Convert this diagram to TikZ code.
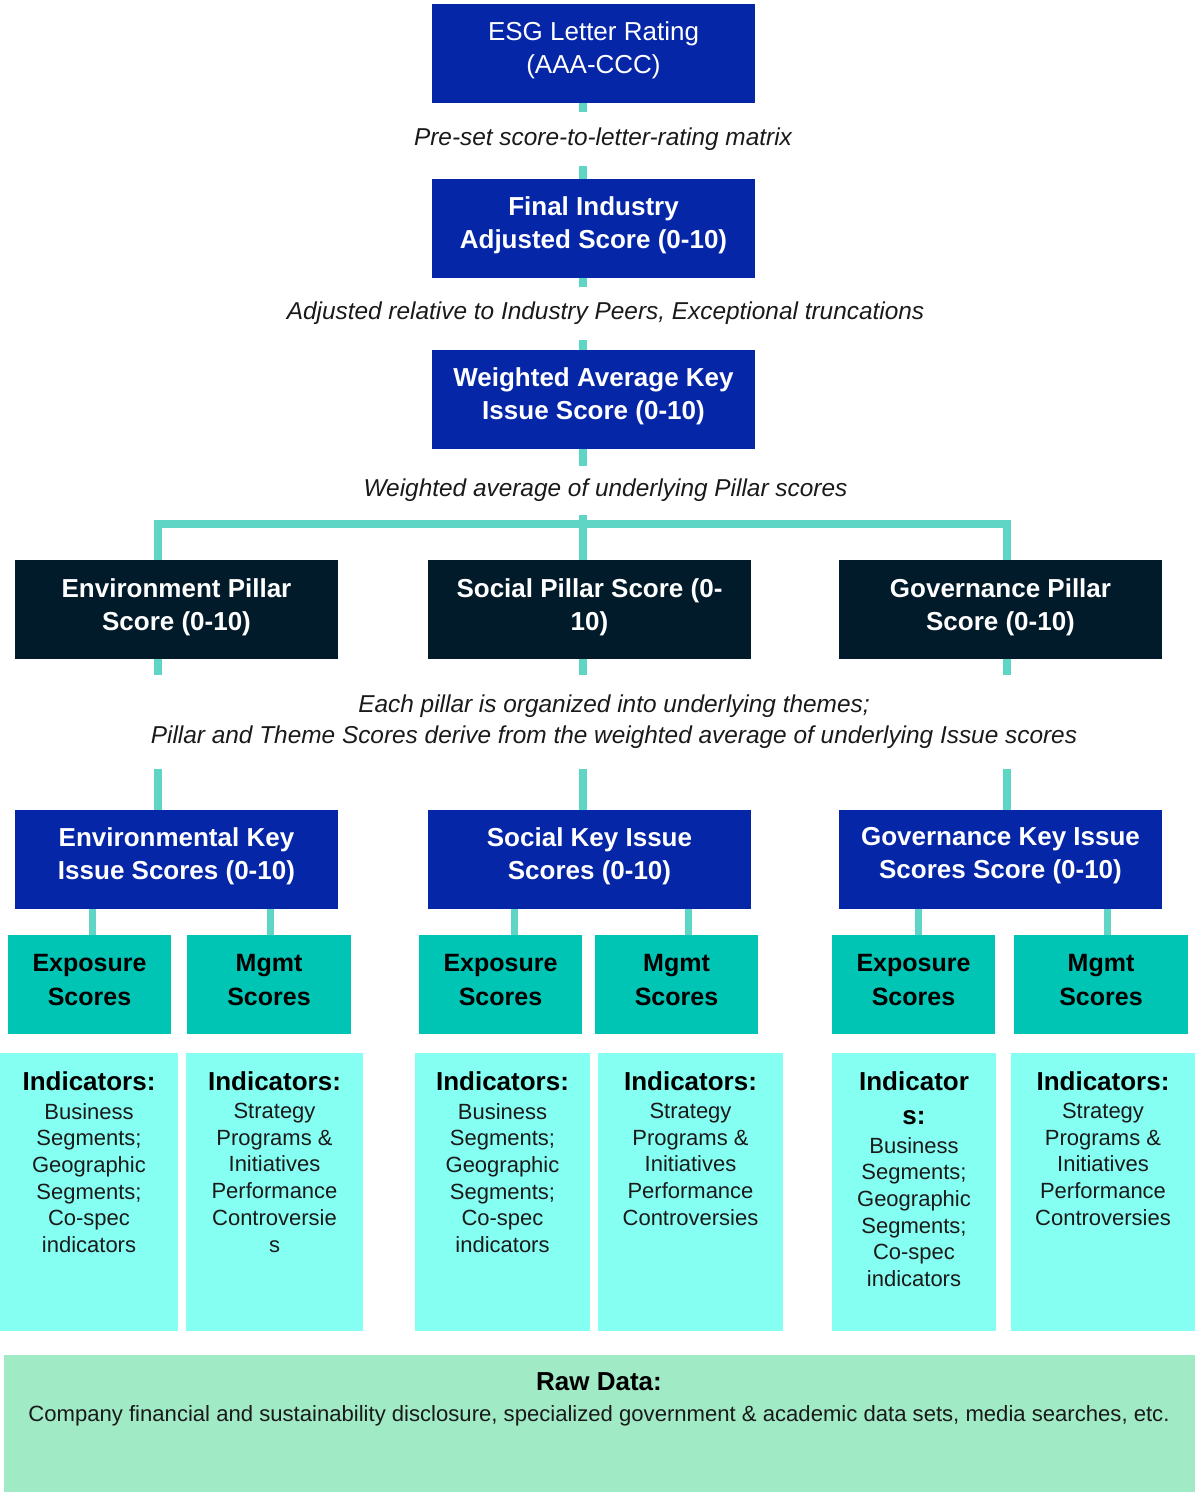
\documentclass[tikz,border=0pt]{standalone}
\usepackage{fontspec}
\setmainfont{Liberation Sans}
\definecolor{kblue}{HTML}{0626A8}
\definecolor{knavy}{HTML}{021B2B}
\definecolor{kteal}{HTML}{00C4B4}
\definecolor{kcyan}{HTML}{85FFF2}
\definecolor{kgreen}{HTML}{A0EAC6}
\definecolor{kline}{HTML}{5ED5C5}
\definecolor{ktext}{HTML}{1A1A1A}
\begin{document}
\begin{tikzpicture}[x=1pt,y=-1pt,
  box/.style={rectangle, draw=none, inner sep=0pt, minimum height=99pt},
  bluebox/.style={box, fill=kblue, minimum width=323pt},
  navybox/.style={box, fill=knavy, minimum width=323pt},
  tealbox/.style={box, fill=kteal},
  cyanbox/.style={box, fill=kcyan, minimum height=278pt},
  greenbox/.style={box, fill=kgreen, minimum height=137pt, minimum width=1191pt},
  conn/.style={draw=kline, line width=8pt},
  conns/.style={draw=kline, line width=7pt},
  wreg/.style={text=white, align=center, anchor=north, inner sep=0pt, font=\fontsize{26}{33}\selectfont},
  wbold/.style={text=white, align=center, anchor=north, inner sep=0pt, font=\fontsize{26}{33}\selectfont\bfseries},
  bbold/.style={text=black, align=center, anchor=north, inner sep=0pt, font=\fontsize{25}{34}\selectfont\bfseries},
  lbl/.style={fill=white, text=ktext, align=center, inner xsep=4pt, inner ysep=0pt, font=\fontsize{24.4}{31}\selectfont\itshape},
  indh/.style={text=black, align=center, anchor=north, inner sep=0pt, font=\fontsize{26}{34}\selectfont\bfseries},
  indb/.style={text=ktext, align=center, anchor=north, inner sep=0pt, font=\fontsize{22}{26.7}\selectfont},
]
\useasboundingbox (0,0) rectangle (1195,1492);

% ---- boxes ----
\node[bluebox] (esg) at (593.5,53.5) {};
\node[bluebox] (fin) at (593.5,228.5) {};
\node[bluebox] (wak) at (593.5,399.5) {};

\node[navybox] (envp) at (176.5,609.5) {};
\node[navybox] (socp) at (589.5,609.5) {};
\node[navybox] (govp) at (1000.5,609.5) {};

\node[bluebox] (envk) at (176.5,859.5) {};
\node[bluebox] (sock) at (589.5,859.5) {};
\node[bluebox] (govk) at (1000.5,859.5) {};

\node[tealbox, minimum width=163pt] (envx) at (89.5,984.5) {};
\node[tealbox, minimum width=164pt] (envm) at (269,984.5) {};
\node[tealbox, minimum width=163pt] (socx) at (500.5,984.5) {};
\node[tealbox, minimum width=163pt] (socm) at (676.5,984.5) {};
\node[tealbox, minimum width=163pt] (govx) at (913.5,984.5) {};
\node[tealbox, minimum width=174pt] (govm) at (1101,984.5) {};

\node[cyanbox, minimum width=178pt] (i1) at (89,1192) {};
\node[cyanbox, minimum width=177pt] (i2) at (274.5,1192) {};
\node[cyanbox, minimum width=175pt] (i3) at (502.5,1192) {};
\node[cyanbox, minimum width=185pt] (i4) at (690.5,1192) {};
\node[cyanbox, minimum width=164pt] (i5) at (914,1192) {};
\node[cyanbox, minimum width=184pt] (i6) at (1103,1192) {};

\node[greenbox] (raw) at (599.5,1423.5) {};

% ---- connectors ----
\coordinate (sp) at (583,0);
\coordinate (cE) at (158,524);
\coordinate (cS) at (583,524);
\coordinate (cG) at (1007,524);
\draw[conn] (esg.south -| sp) -- (fin.north -| sp);
\draw[conn] (fin.south -| sp) -- (wak.north -| sp);
\draw[conn] (wak.south -| sp) -- (socp.north -| sp);
\draw[conn, line join=miter] (envp.north -| cE) -- (cE) -- (cG) -- (govp.north -| cG);
\draw[conn] (envp.south -| cE) -- (envk.north -| cE);
\draw[conn] (socp.south -| cS) -- (sock.north -| cS);
\draw[conn] (govp.south -| cG) -- (govk.north -| cG);

\coordinate (k1) at (92,0);
\coordinate (k2) at (270,0);
\coordinate (k3) at (514,0);
\coordinate (k4) at (688,0);
\coordinate (k5) at (918,0);
\coordinate (k6) at (1107,0);
\draw[conns] (envk.south -| k1) -- (envx.north -| k1);
\draw[conns] (envk.south -| k2) -- (envm.north -| k2);
\draw[conns] (sock.south -| k3) -- (socx.north -| k3);
\draw[conns] (sock.south -| k4) -- (socm.north -| k4);
\draw[conns] (govk.south -| k5) -- (govx.north -| k5);
\draw[conns] (govk.south -| k6) -- (govm.north -| k6);

% ---- labels on connectors ----
\node[lbl, minimum height=54pt] (l1) at (603,139) {Pre-set score-to-letter-rating matrix};
\node[lbl, minimum height=53pt] (l2) at (605.5,313) {Adjusted relative to Industry Peers, Exceptional truncations};
\node[lbl, minimum height=49pt] (l3) at (605.5,490) {Weighted average of underlying Pillar scores};
\node[lbl, minimum height=94pt] (l4) at (614,722) {Each pillar is organized into underlying themes;\\Pillar and Theme Scores derive from the weighted average of underlying Issue scores};

% ---- box texts ----
\node[wreg] (tesg) at (593.5,21.5) {ESG Letter Rating\\(AAA-CCC)};
\node[wbold] (tfin) at (593.5,196.5) {Final Industry\\Adjusted Score (0-10)};
\node[wbold] (twak) at (593.5,367.5) {Weighted Average Key\\Issue Score (0-10)};

\node[wbold] (tenvp) at (176.5,578.5) {Environment Pillar\\Score (0-10)};
\node[wbold] (tsocp) at (589.5,578.5) {Social Pillar Score (0-\\10)};
\node[wbold] (tgovp) at (1000.5,578.5) {Governance Pillar\\Score (0-10)};

\node[wbold] (tenvk) at (176.5,827.5) {Environmental Key\\Issue Scores (0-10)};
\node[wbold] (tsock) at (589.5,827.5) {Social Key Issue\\Scores (0-10)};
\node[wbold] (tgovk) at (1000.5,827.5) {Governance Key Issue\\Scores Score (0-10)};

\node[bbold] (tenvx) at (89.5,954) {Exposure\\Scores};
\node[bbold] (tenvm) at (269,954) {Mgmt\\Scores};
\node[bbold] (tsocx) at (500.5,954) {Exposure\\Scores};
\node[bbold] (tsocm) at (676.5,954) {Mgmt\\Scores};
\node[bbold] (tgovx) at (913.5,954) {Exposure\\Scores};
\node[bbold] (tgovm) at (1101,954) {Mgmt\\Scores};

% ---- indicators ----
\node[indh] (h1) at (89,1071.5) {Indicators:};
\node[indb] (b1) at (89,1103) {Business\\Segments;\\Geographic\\Segments;\\Co-spec\\indicators};
\node[indh] (h2) at (274.5,1071.5) {Indicators:};
\node[indb] (b2) at (274.5,1103) {Strategy\\Programs \&\\Initiatives\\Performance\\Controversie\\s};
\node[indh] (h3) at (502.5,1071.5) {Indicators:};
\node[indb] (b3) at (502.5,1103) {Business\\Segments;\\Geographic\\Segments;\\Co-spec\\indicators};
\node[indh] (h4) at (690.5,1071.5) {Indicators:};
\node[indb] (b4) at (690.5,1103) {Strategy\\Programs \&\\Initiatives\\Performance\\Controversies};
\node[indh] (h5) at (914,1071.5) {Indicator\\s:};
\node[indb] (b5) at (914,1137) {Business\\Segments;\\Geographic\\Segments;\\Co-spec\\indicators};
\node[indh] (h6) at (1103,1071.5) {Indicators:};
\node[indb] (b6) at (1103,1103) {Strategy\\Programs \&\\Initiatives\\Performance\\Controversies};

% ---- raw data ----
\node[indh] (rh) at (599,1372.5) {Raw Data:};
\node[indb, font=\fontsize{22.1}{26.7}\selectfont] (rb) at (599,1405) {Company financial and sustainability disclosure, specialized government \& academic data sets, media searches, etc.};
\end{tikzpicture}
\end{document}
